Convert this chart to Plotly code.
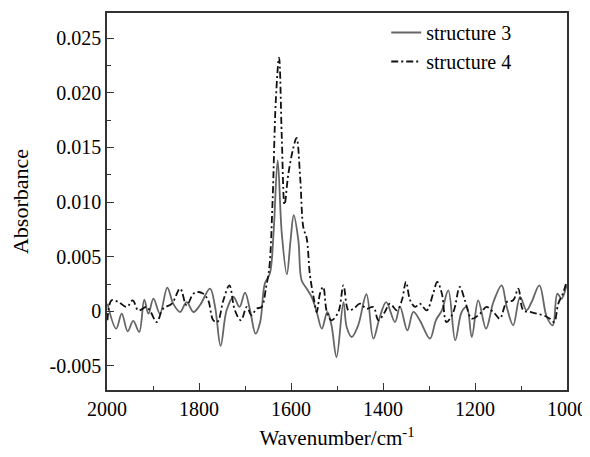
import plotly.graph_objects as go

# structure 3 (gray solid)
wn3 = [1999, 1980, 1968, 1955, 1943, 1930, 1919, 1910, 1899, 1885, 1869, 1856, 1841, 1827, 1812, 1798,
       1776, 1765, 1753, 1740, 1725, 1712, 1700, 1689, 1677, 1667, 1657, 1646, 1638, 1629, 1620, 1609,
       1601, 1594, 1584, 1577, 1566, 1555, 1544, 1533, 1521, 1512, 1501, 1486, 1479, 1468, 1454, 1436,
       1421, 1407, 1393, 1374, 1363, 1347, 1334, 1320, 1298, 1285, 1272, 1258, 1243, 1229, 1218, 1207,
       1193, 1176, 1160, 1142, 1131, 1117, 1102, 1088, 1077, 1060, 1044, 1031, 1021, 1012, 1001]
abs3 = [0.70, -1.59, -0.21, -1.83, -0.88, -1.89, 1.07, -0.21, 1.16, -0.21, 2.17, 0.70, -0.06, 0.85, -0.06, 0.55,
        2.08, 0.40, -3.17, 0.09, 1.31, 0.40, 1.71, 0.09, -2.05, -0.98, 2.53, 3.45, 7.11, 13.82, 7.11, 3.39,
        6.50, 8.79, 6.50, 2.84, 2.08, 1.31, -0.06, -1.59, -0.06, -1.28, -4.18, 0.85, -1.43, -2.35, -1.28, 1.56,
        -2.50, -0.52, 0.85, -0.98, 0.40, -1.74, -0.06, -0.82, -2.50, -0.82, 0.09, 1.92, -2.65, -0.06, 0.40, -2.35,
        1.01, -1.59, 0.85, 2.38, 0.40, -1.28, 1.31, 0.09, 0.85, 2.38, -0.52, -1.28, 1.62, 1.16, 2.38]

# structure 4 (black dash-dot)
wn4 = [1999, 1990, 1975, 1957, 1944, 1932, 1914, 1905, 1892, 1878, 1859, 1841, 1827, 1812, 1801, 1791,
       1780, 1769, 1760, 1747, 1734, 1722, 1709, 1696, 1686, 1675, 1664, 1654, 1647, 1640, 1633, 1626,
       1620, 1614, 1606, 1595, 1588, 1580, 1573, 1566, 1559, 1551, 1544, 1537, 1530, 1522, 1512, 1497,
       1486, 1475, 1464, 1450, 1436, 1421, 1410, 1396, 1385, 1370, 1359, 1350, 1341, 1330, 1320, 1305,
       1291, 1282, 1272, 1262, 1247, 1233, 1222, 1207, 1189, 1175, 1157, 1146, 1131, 1117, 1106, 1095,
       1080, 1066, 1051, 1037, 1028, 1019, 1009, 1001]
abs4 = [-0.82, 1.01, 0.85, 0.40, 1.01, 0.09, 0.40, -0.06, -0.98, 0.24, 0.70, 2.08, 0.55, 1.62, 1.77, 1.62,
        1.01, -0.82, -0.98, 1.01, 2.38, 0.09, -0.82, 0.40, -0.37, 0.24, 0.40, 2.23, 4.06, 10.16, 19.31, 23.22,
        15.86, 9.76, 12.51, 14.95, 15.86, 12.20, 7.63, 6.71, 3.39, 1.31, -0.06, 1.62, 2.23, -0.06, -0.82, -0.06,
        2.38, 0.09, 0.24, 0.70, 0.24, 0.40, -0.82, -0.06, 0.70, 0.09, 1.01, 2.69, 1.01, 0.40, 0.70, 0.09,
        1.62, 2.69, 1.62, -0.98, -0.06, 2.23, 1.01, -0.67, -0.21, 0.40, -0.21, -0.67, 0.85, 1.01, 2.08, 0.09,
        -0.06, -0.21, -0.37, -0.67, -0.98, 0.70, 1.62, 2.69]

ytick_vals = [-0.005, 0, 0.005, 0.010, 0.015, 0.020, 0.025]
ytick_text = ["-0.005", "0", "0.005", "0.010", "0.015", "0.020", "0.025"]
xtick_vals = [2000, 1800, 1600, 1400, 1200, 1000]

FONT = "'Liberation Serif', 'Times New Roman', 'DejaVu Serif', serif"

fig = go.Figure()
fig.add_trace(go.Scatter(x=wn3, y=[v / 1000 for v in abs3], mode="lines", name="structure 3",
                         line=dict(color="#666666", width=1.8, shape="spline", smoothing=1.0)))
fig.add_trace(go.Scatter(x=wn4, y=[v / 1000 for v in abs4], mode="lines", name="structure 4",
                         line=dict(color="#111111", width=1.8, dash="7px,3px,2px,3px",
                                   shape="spline", smoothing=1.0)))

fig.update_layout(
    width=582, height=449,
    margin=dict(l=99, r=23, t=5, b=67, autoexpand=False),
    paper_bgcolor="white", plot_bgcolor="white",
    font=dict(family=FONT, size=20, color="black"),
    showlegend=True,
    legend=dict(x=0.607, y=1.0, xanchor="left", yanchor="top",
                bgcolor="rgba(0,0,0,0)", font=dict(family=FONT, size=20),
                tracegroupgap=0, itemwidth=30),
)
fig.update_xaxes(
    range=[2000, 1000], tickvals=xtick_vals, ticks="inside", ticklen=7, tickwidth=1.2,
    tickcolor="#333", showline=True, linecolor="#333", linewidth=1.5, mirror=True,
    showgrid=False, zeroline=False, automargin=False,
    minor=dict(dtick=100, ticks="inside", ticklen=4, tickwidth=1.2, tickcolor="#333", showgrid=False),
    title=dict(text="Wavenumber/cm<sup>-1</sup>", font=dict(family=FONT, size=21), standoff=12),
    tickfont=dict(family=FONT, size=20),
)
fig.update_yaxes(
    range=[-0.0072, 0.0273], tickvals=ytick_vals, ticktext=ytick_text, ticks="inside", ticklen=7,
    tickwidth=1.2, tickcolor="#333", showline=True, linecolor="#333", linewidth=1.5, mirror=True,
    showgrid=False, zeroline=False, automargin=False,
    minor=dict(tickvals=[-0.0025, 0.0025, 0.0075, 0.0125, 0.0175, 0.0225], ticks="inside",
               ticklen=4, tickwidth=1.2, tickcolor="#333", showgrid=False),
    title=dict(text="Absorbance", font=dict(family=FONT, size=22), standoff=16),
    tickfont=dict(family=FONT, size=20),
)

fig.write_html("out.html")
